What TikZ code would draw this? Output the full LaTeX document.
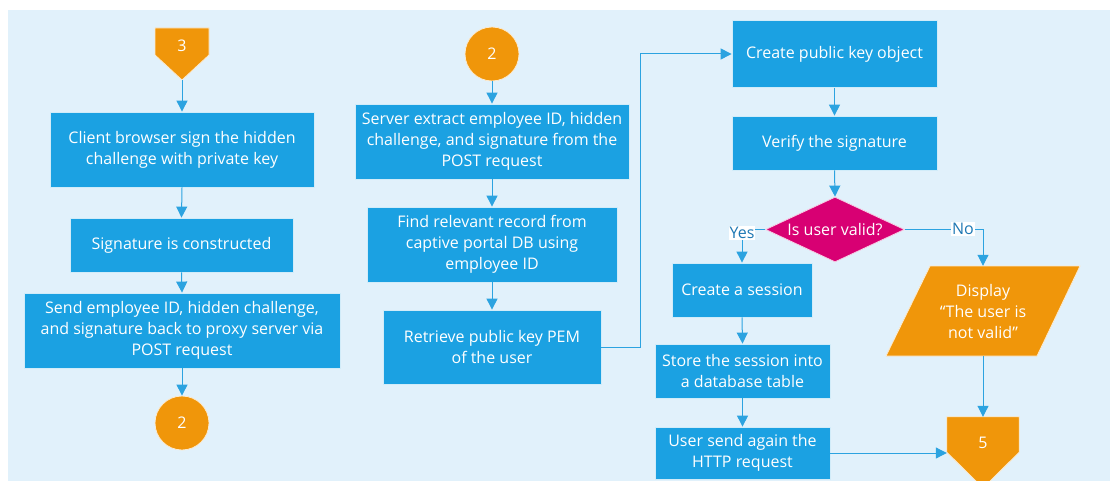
\documentclass[tikz,border=0pt]{standalone}
\usepackage{fontspec}
\setmainfont{Open Sans}
\usetikzlibrary{arrows.meta,shapes.geometric,calc}
\definecolor{bgblue}{HTML}{E1F1FB}
\definecolor{boxblue}{HTML}{1BA1E2}
\definecolor{linkblue}{HTML}{2CA3E0}
\definecolor{flagorange}{HTML}{F0960A}
\definecolor{decmagenta}{HTML}{D80073}
\definecolor{labelblue}{HTML}{1E78B4}
\pgfdeclarelayer{canvas}
\pgfdeclarelayer{bg}
\pgfsetlayers{canvas,bg,main}
\begin{document}
\begin{tikzpicture}[x=1pt,y=-1pt,
  every node/.style={font=\fontsize{16}{21}\selectfont},
  stepbox/.style={rectangle, fill=boxblue, draw=white!80!boxblue, line width=0.8pt,
    text=white, align=center, inner sep=0pt},
  joint/.style={circle, fill=flagorange, draw=white!80!flagorange, line width=0.8pt,
    text=white, minimum size=54pt, inner sep=0pt},
  flagtext/.style={rectangle, text=white, inner sep=0pt},
  flagshape/.style={fill=flagorange, draw=white!80!flagorange, line width=0.8pt},
  flow/.style={draw=linkblue, line width=1pt, -{Triangle[width=11pt,length=11pt]}},
  answer/.style={fill=white, text=labelblue, inner sep=1pt}
]
\useasboundingbox (0,0) rectangle (1110,481);
\begin{pgfonlayer}{canvas}
  \fill[white] (0,0) rectangle (1110,481);
  \fill[bgblue] (8,10) rectangle (1110,481);
\end{pgfonlayer}

% ---- client side ----
\node[flagtext] (off3) at (182,46) {3};
\coordinate (off3tip) at (182,80);
\begin{pgfonlayer}{bg}
  \path[flagshape] (155,28) -- (209,28) -- (209,55) -- (off3tip) -- (155,55) -- cycle;
\end{pgfonlayer}
\node[stepbox, minimum width=264pt, minimum height=75pt] (sign) at (182,149.5)
  {Client browser sign the hidden\\challenge with private key};
\node[stepbox, minimum width=223pt, minimum height=54pt] (sig) at (181.5,245)
  {Signature is constructed};
\node[stepbox, minimum width=316pt, minimum height=75pt] (send) at (182,330.5)
  {Send employee ID, hidden challenge,\\and signature back to proxy server via\\POST request};
\node[joint] (to2) at (182,423) {2};

\draw[flow] (off3tip) -- (sign.north);
\draw[flow] (sign.south) -- (sig.north);
\draw[flow] (sig.south) -- (send.north);
\draw[flow] (send.south) -- (to2.north);

% ---- server side ----
\node[joint] (from2) at (492,54) {2};
\node[stepbox, minimum width=274pt, minimum height=75pt] (extract) at (492,141.5)
  {Server extract employee ID, hidden\\challenge, and signature from the\\POST request};
\node[stepbox, minimum width=250pt, minimum height=75pt] (find) at (492,244.5)
  {Find relevant record from\\captive portal DB using\\employee ID};
\node[stepbox, minimum width=218pt, minimum height=74pt] (pem) at (492,347)
  {Retrieve public key PEM\\of the user};

\draw[flow] (from2.south) -- (extract.north);
\draw[flow] (extract.south) -- (find.north);
\draw[flow] (find.south) -- (pem.north);

% ---- verification ----
\node[stepbox, minimum width=205pt, minimum height=67pt] (keyobj) at (834.5,54)
  {Create public key object};
\node[stepbox, minimum width=205pt, minimum height=54pt] (verify) at (834.5,143)
  {Verify the signature};
\node[diamond, aspect=2.14, fill=decmagenta, draw=white!80!decmagenta, line width=0.8pt,
  text=white, inner sep=0pt, minimum width=139pt, minimum height=65pt] (valid) at (835,229.5)
  {Is user valid?};

\coordinate (bend) at (640,0);
\draw[flow] (pem.east) -- (pem.east -| bend) |- (keyobj.west);
\draw[flow] (keyobj.south) -- (verify.north);
\draw[flow] (verify.south) -- (valid.north);

% ---- valid user ----
\node[stepbox, minimum width=140pt, minimum height=54pt] (session) at (742,290)
  {Create a session};
\node[stepbox, minimum width=175pt, minimum height=54pt] (store) at (742.5,371)
  {Store the session into\\a database table};
\node[stepbox, minimum width=175pt, minimum height=52pt] (resend) at (742.5,453)
  {User send again the\\HTTP request};

\draw[flow] (valid.west) -| (session.north);
\node[answer] (yes) at (742,233) {Yes};
\draw[flow] (session.south) -- (store.north);
\draw[flow] (store.south) -- (resend.north);

% ---- invalid user ----
\node[rectangle, text=white, align=center, inner sep=0pt,
  minimum width=150pt, minimum height=90pt] (show) at (983,311)
  {Display\\“The user is\\not valid”};
\begin{pgfonlayer}{bg}
  \path[flagshape] (930,266) -- (1080,266) -- (1037,356) -- (886,356) -- cycle;
\end{pgfonlayer}
\draw[flow] (valid.east) -| (show.north);
\node[answer] (no) at (963,229) {No};

% ---- off-page connector 5 ----
\node[flagtext, minimum width=72pt, minimum height=35pt] (off5) at (983,434.5) {};
\node[flagtext] (five) at (983,443) {5};
\begin{pgfonlayer}{bg}
  \path[flagshape] (off5.north west) -- (off5.north east) -- (off5.south east)
    -- (983,488) -- (off5.south west) -- cycle;
\end{pgfonlayer}
\draw[flow] (show.south) -- (off5.north);
\draw[flow] (resend.east) -- (resend.east -| off5.west);
\end{tikzpicture}
\end{document}
